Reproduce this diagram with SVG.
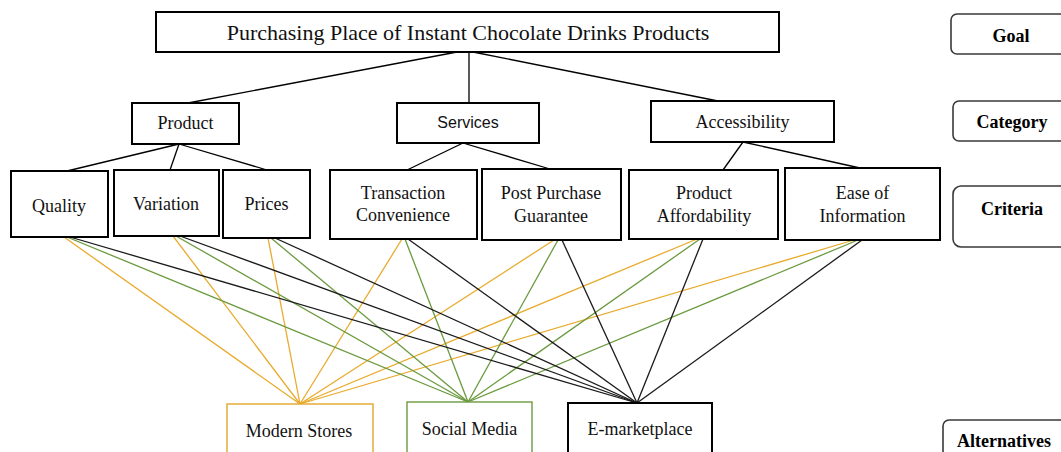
<svg xmlns="http://www.w3.org/2000/svg" width="1061" height="452" viewBox="0 0 1061 452">
  <style>
    .box { fill: #ffffff; stroke: #000000; stroke-width: 2; }
    .legend { fill: #ffffff; stroke: #3a3a3a; stroke-width: 1.6; }
    .alt-ms { fill: #ffffff; stroke: #e3a62c; stroke-width: 1.4; }
    .alt-sm { fill: #ffffff; stroke: #6b9a3f; stroke-width: 1.4; }
    .t { font-family: "Liberation Serif", "Times New Roman", serif; font-size: 18px; fill: #111111; text-anchor: middle; }
    .title { font-size: 22px; }
    .sans { font-family: "Liberation Sans", Arial, sans-serif; font-size: 16px; }
    .lt { font-family: "Liberation Serif", "Times New Roman", serif; font-size: 18px; font-weight: bold; fill: #000000; text-anchor: middle; }
    .tree line { stroke: #000000; stroke-width: 1.3; }
    .orange line { stroke: #e8ab2e; stroke-width: 1.3; }
    .green line { stroke: #6b9a3f; stroke-width: 1.3; }
    .black line { stroke: #1a1a1a; stroke-width: 1.3; }
  </style>

  <!-- connectors -->
  <g id="connectors">
    <g class="tree">
      <line x1="457" y1="52" x2="188" y2="103"/>
      <line x1="469" y1="52" x2="469" y2="103"/>
      <line x1="473" y1="52" x2="718" y2="101"/>
      <line x1="179" y1="144" x2="67" y2="171"/>
      <line x1="179" y1="144" x2="170" y2="170"/>
      <line x1="179" y1="144" x2="267" y2="170"/>
      <line x1="463" y1="143" x2="405" y2="171"/>
      <line x1="463" y1="143" x2="550" y2="169"/>
      <line x1="743" y1="142" x2="723" y2="170"/>
      <line x1="743" y1="142" x2="860" y2="168"/>
    </g>
    <g class="orange">
      <line x1="64" y1="237" x2="300" y2="404"/>
      <line x1="173" y1="236" x2="300" y2="404"/>
      <line x1="268" y1="238" x2="300" y2="404"/>
      <line x1="402" y1="239" x2="300" y2="404"/>
      <line x1="554" y1="240" x2="300" y2="404"/>
      <line x1="697" y1="239" x2="300" y2="404"/>
      <line x1="854" y1="240" x2="300" y2="404"/>
    </g>
    <g class="green">
      <line x1="67" y1="237" x2="468" y2="402"/>
      <line x1="176" y1="236" x2="468" y2="402"/>
      <line x1="271" y1="238" x2="468" y2="402"/>
      <line x1="405" y1="239" x2="468" y2="402"/>
      <line x1="558" y1="240" x2="468" y2="402"/>
      <line x1="700" y1="239" x2="468" y2="402"/>
      <line x1="858" y1="240" x2="468" y2="402"/>
    </g>
    <g class="black">
      <line x1="70" y1="237" x2="637" y2="403"/>
      <line x1="180" y1="236" x2="637" y2="403"/>
      <line x1="275" y1="238" x2="637" y2="403"/>
      <line x1="408" y1="239" x2="637" y2="403"/>
      <line x1="562" y1="240" x2="637" y2="403"/>
      <line x1="703" y1="239" x2="637" y2="403"/>
      <line x1="862" y1="240" x2="637" y2="403"/>
    </g>
  </g>

  <!-- goal -->
  <g id="goal">
    <rect class="box" x="156" y="12" width="623" height="40"/>
    <text class="t title" x="468" y="40">Purchasing Place of Instant Chocolate Drinks Products</text>
  </g>

  <!-- categories -->
  <g id="cat-product">
    <rect class="box" x="132" y="103" width="107" height="41"/>
    <text class="t" x="185.5" y="129">Product</text>
  </g>
  <g id="cat-services">
    <rect class="box" x="397" y="103" width="142" height="40"/>
    <text class="t sans" x="468" y="128">Services</text>
  </g>
  <g id="cat-accessibility">
    <rect class="box" x="651" y="101" width="183" height="41"/>
    <text class="t" x="742.5" y="128">Accessibility</text>
  </g>

  <!-- criteria -->
  <g id="crit-quality">
    <rect class="box" x="11" y="171" width="97" height="66"/>
    <text class="t" x="59" y="212">Quality</text>
  </g>
  <g id="crit-variation">
    <rect class="box" x="114" y="170" width="105" height="66"/>
    <text class="t" x="166" y="210">Variation</text>
  </g>
  <g id="crit-prices">
    <rect class="box" x="223" y="170" width="87" height="68"/>
    <text class="t" x="266.5" y="210">Prices</text>
  </g>
  <g id="crit-transaction">
    <rect class="box" x="330" y="170" width="147" height="69"/>
    <text class="t" x="403" y="199">Transaction</text>
    <text class="t" x="403" y="221">Convenience</text>
  </g>
  <g id="crit-postpurchase">
    <rect class="box" x="482" y="169" width="139" height="71"/>
    <text class="t" x="551" y="199">Post Purchase</text>
    <text class="t" x="551" y="222">Guarantee</text>
  </g>
  <g id="crit-affordability">
    <rect class="box" x="629" y="170" width="149" height="69"/>
    <text class="t" x="704" y="199">Product</text>
    <text class="t" x="704" y="222">Affordability</text>
  </g>
  <g id="crit-information">
    <rect class="box" x="785" y="168" width="155" height="72"/>
    <text class="t" x="862.5" y="199">Ease of</text>
    <text class="t" x="862.5" y="222">Information</text>
  </g>

  <!-- alternatives -->
  <g id="alt-modern-stores">
    <rect class="alt-ms" x="227" y="404" width="146" height="60"/>
    <text class="t" x="299" y="437">Modern Stores</text>
  </g>
  <g id="alt-social-media">
    <rect class="alt-sm" x="407" y="402" width="125" height="60"/>
    <text class="t" x="469.5" y="435">Social Media</text>
  </g>
  <g id="alt-emarketplace">
    <rect class="box" x="568" y="403" width="144" height="60"/>
    <text class="t" x="640" y="435">E-marketplace</text>
  </g>

  <!-- level legend -->
  <g id="legend-goal">
    <rect class="legend" x="951" y="14" width="130" height="40" rx="6"/>
    <text class="lt" x="1011" y="42">Goal</text>
  </g>
  <g id="legend-category">
    <rect class="legend" x="953" y="101" width="130" height="40" rx="6"/>
    <text class="lt" x="1012" y="128">Category</text>
  </g>
  <g id="legend-criteria">
    <rect class="legend" x="953" y="186" width="130" height="61" rx="8"/>
    <text class="lt" x="1012" y="215">Criteria</text>
  </g>
  <g id="legend-alternatives">
    <rect class="legend" x="943" y="420" width="140" height="50" rx="6"/>
    <text class="lt" x="1004" y="447">Alternatives</text>
  </g>
</svg>
